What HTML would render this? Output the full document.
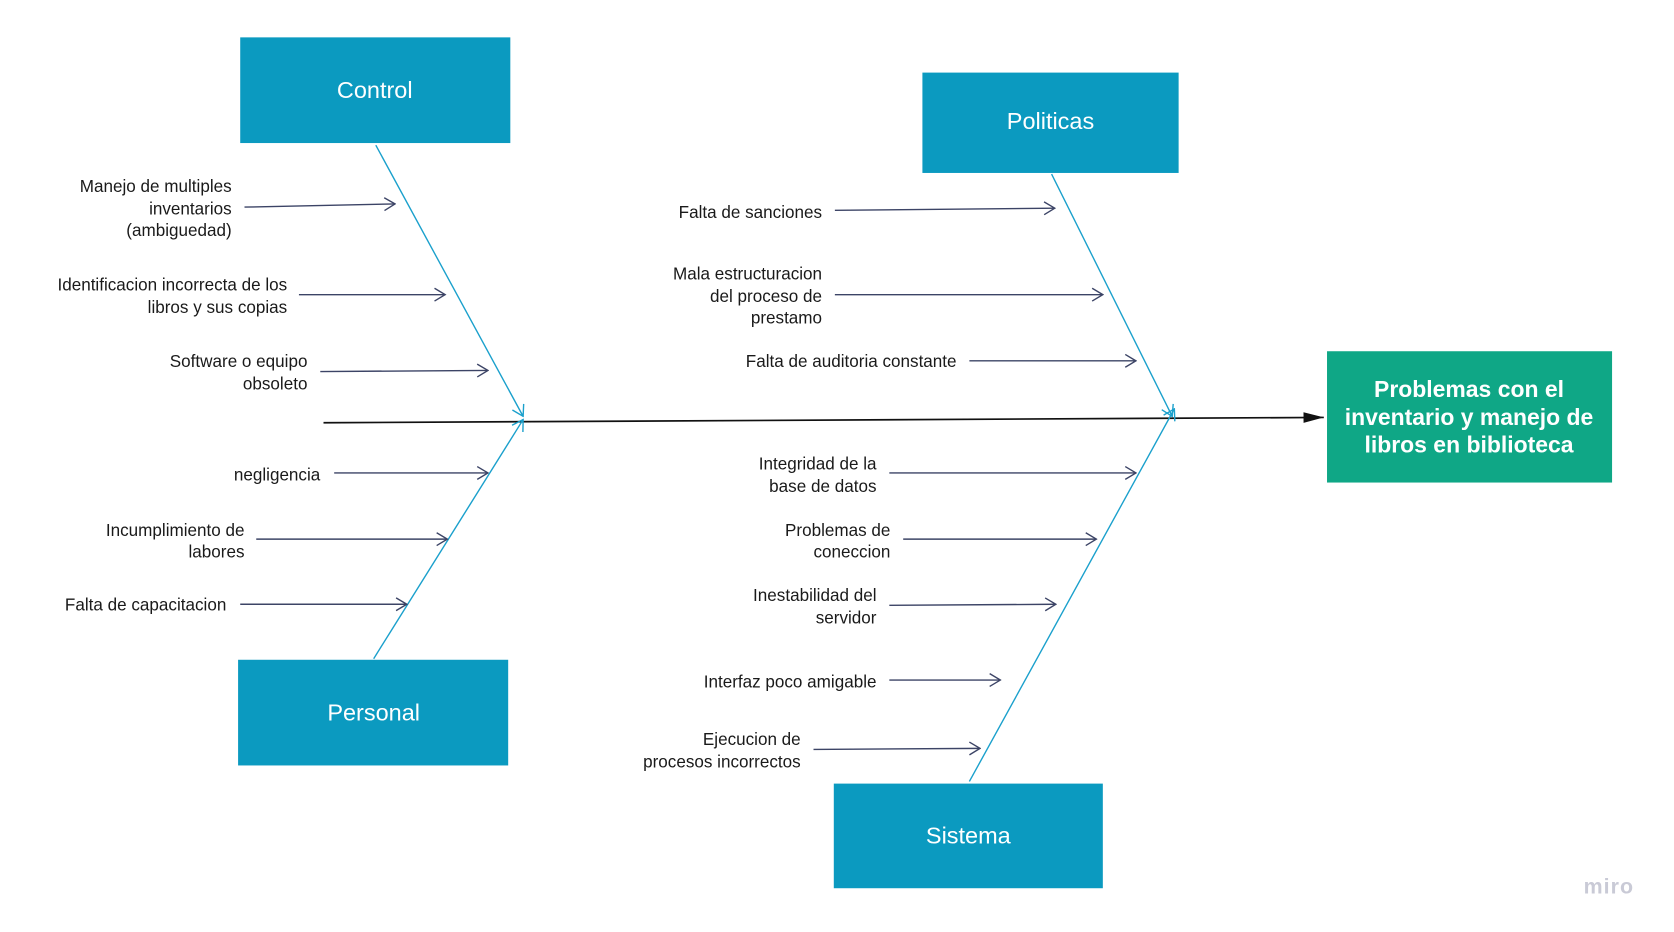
<!DOCTYPE html>
<html><head><meta charset="utf-8"><style>
html,body{margin:0;padding:0;background:#fff;}
svg{display:block;}
text{font-family:"Liberation Sans",Arial,sans-serif;}
</style></head><body>
<svg width="1674" height="932" viewBox="0 0 1568 873" xmlns="http://www.w3.org/2000/svg">
<defs>
<marker id="oa" markerWidth="12" markerHeight="14" refX="11" refY="7" orient="auto" markerUnits="userSpaceOnUse">
<path d="M1,1 L11,7 L1,13" fill="none" stroke="#3c4466" stroke-width="1.3"/>
</marker>
<marker id="ba" markerWidth="12" markerHeight="14" refX="11" refY="7" orient="auto" markerUnits="userSpaceOnUse">
<path d="M1,1 L11,7 L1,13" fill="none" stroke="#1aa0cc" stroke-width="1.3"/>
</marker>
<marker id="fa" markerWidth="20" markerHeight="12" refX="19" refY="6" orient="auto" markerUnits="userSpaceOnUse">
<path d="M0,1 L19,6 L0,11 Z" fill="#111"/>
</marker>
</defs>
<line x1="303" y1="396" x2="1240" y2="391" stroke="#111" stroke-width="1.6" marker-end="url(#fa)"/>
<g stroke="#1aa0cc" stroke-width="1.3" fill="none">
<line x1="352" y1="136" x2="490" y2="390" marker-end="url(#ba)"/>
<line x1="350" y1="617" x2="490" y2="393" marker-end="url(#ba)"/>
<line x1="985" y1="163" x2="1098" y2="390" marker-end="url(#ba)"/>
<line x1="908" y1="732" x2="1100" y2="383" marker-end="url(#ba)"/>
</g>
<g stroke="#3c4466" stroke-width="1.3" fill="none">
<line x1="229" y1="194" x2="370" y2="191" marker-end="url(#oa)"/>
<line x1="280" y1="276" x2="417" y2="276" marker-end="url(#oa)"/>
<line x1="300" y1="348" x2="457" y2="347" marker-end="url(#oa)"/>
<line x1="313" y1="443" x2="457" y2="443" marker-end="url(#oa)"/>
<line x1="240" y1="505" x2="419" y2="505" marker-end="url(#oa)"/>
<line x1="225" y1="566" x2="381" y2="566" marker-end="url(#oa)"/>
<line x1="782" y1="197" x2="988" y2="195" marker-end="url(#oa)"/>
<line x1="782" y1="276" x2="1033" y2="276" marker-end="url(#oa)"/>
<line x1="908" y1="338" x2="1064" y2="338" marker-end="url(#oa)"/>
<line x1="833" y1="443" x2="1064" y2="443" marker-end="url(#oa)"/>
<line x1="846" y1="505" x2="1027" y2="505" marker-end="url(#oa)"/>
<line x1="833" y1="567" x2="989" y2="566" marker-end="url(#oa)"/>
<line x1="833" y1="637" x2="937" y2="637" marker-end="url(#oa)"/>
<line x1="762" y1="702" x2="918" y2="701" marker-end="url(#oa)"/>
</g>
<g fill="#0b9ac0">
<rect x="225" y="35" width="253" height="99"/>
<rect x="864" y="68" width="240" height="94"/>
<rect x="223" y="618" width="253" height="99"/>
<rect x="781" y="734" width="252" height="98"/>
</g>
<rect x="1243" y="329" width="267" height="123" fill="#0fa786"/>
<g fill="#fff" font-size="22" text-anchor="middle">
<text x="351" y="92">Control</text>
<text x="984" y="121">Politicas</text>
<text x="350" y="675">Personal</text>
<text x="907" y="790">Sistema</text>
</g>
<g fill="#fff" font-size="21.5" font-weight="bold" text-anchor="middle">
<text x="1376" y="372">Problemas con el</text>
<text x="1376" y="398">inventario y manejo de</text>
<text x="1376" y="424">libros en biblioteca</text>
</g>
<g fill="#1a1a1a" font-size="16" text-anchor="end">
<text x="217" y="180">Manejo de multiples</text>
<text x="217" y="201">inventarios</text>
<text x="217" y="221">(ambiguedad)</text>
<text x="269" y="272">Identificacion incorrecta de los</text>
<text x="269" y="293">libros y sus copias</text>
<text x="288" y="344">Software o equipo</text>
<text x="288" y="365">obsoleto</text>
<text x="300" y="450">negligencia</text>
<text x="229" y="502">Incumplimiento de</text>
<text x="229" y="522">labores</text>
<text x="212" y="572">Falta de capacitacion</text>
<text x="770" y="204">Falta de sanciones</text>
<text x="770" y="262">Mala estructuracion</text>
<text x="770" y="283">del proceso de</text>
<text x="770" y="303">prestamo</text>
<text x="896" y="344">Falta de auditoria constante</text>
<text x="821" y="440">Integridad de la</text>
<text x="821" y="461">base de datos</text>
<text x="834" y="502">Problemas de</text>
<text x="834" y="522">coneccion</text>
<text x="821" y="563">Inestabilidad del</text>
<text x="821" y="584">servidor</text>
<text x="821" y="644">Interfaz poco amigable</text>
<text x="750" y="698">Ejecucion de</text>
<text x="750" y="719">procesos incorrectos</text>
</g>
<text x="1507" y="837" font-size="20" fill="#c9cad6" text-anchor="middle" font-weight="bold" letter-spacing="1">miro</text>
</svg>
</body></html>
